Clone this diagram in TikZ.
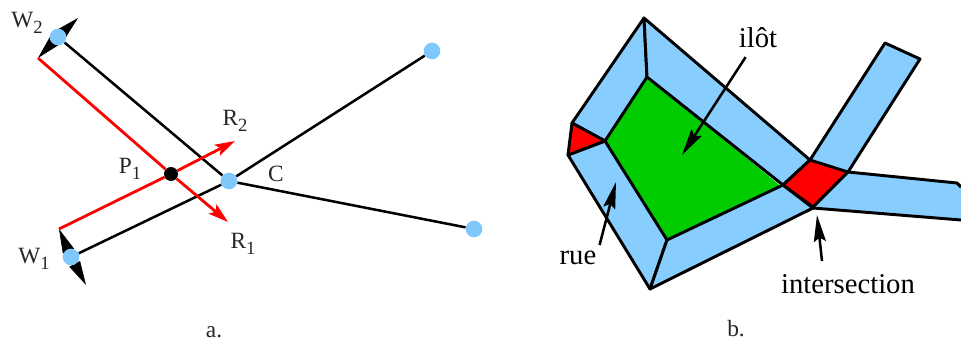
\documentclass[tikz,border=0pt]{standalone}
\usepackage{fontspec}
\setmainfont{Liberation Serif}
\usetikzlibrary{arrows.meta,calc,backgrounds}
\definecolor{roadblue}{HTML}{87CDFE}
\definecolor{ptblue}{HTML}{7FC8FC}
\definecolor{ilotgreen}{HTML}{00CC00}
\definecolor{softblack}{HTML}{262626}
\newcommand{\subt}[2]{#1\raisebox{-0.28em}{\fontsize{14}{14}\selectfont #2}}
\tikzset{
  ptnode/.style={circle,fill=ptblue,draw=none,minimum size=12.5,inner sep=0},
  pdot/.style={circle,fill=black,draw=none,minimum size=10.5,inner sep=0},
  segline/.style={black,line width=1.9pt},
  redline/.style={red,line width=2.1pt},
  redarrow/.style={redline,-{Stealth[length=15,width=9,inset=3]}},
  blackarrow/.style={black,line width=0.5pt,-{Stealth[length=18,width=9,inset=0]}},
  lab/.style={font=\fontsize{17.5}{17.5}\selectfont,text=softblack,inner sep=0},
  bigtext/.style={font=\fontsize{21.5}{21.5}\selectfont,text=black,inner sep=1.5},
  road/.style={fill=roadblue,draw=black,line width=2.2pt,line join=round},
  outline/.style={black,line width=2.2pt,line join=round},
  redcell/.style={fill=red,draw=black,line width=2.2pt,line join=round},
  pointer/.style={black,line width=1.9pt,-{Stealth[length=20,width=9,inset=3]}}
}
\begin{document}
\begin{tikzpicture}[x=0.75pt,y=-0.75pt]
\useasboundingbox (0,0) rectangle (961,343);
% --- panel a
\node[ptnode] (W2) at (58,37) {};
\node[ptnode] (W1) at (71,257) {};
\node[ptnode] (C) at (229,181) {};
\node[ptnode] (E1) at (432,51) {};
\node[ptnode] (E2) at (474,229) {};
\node[pdot] (P1) at (171,174) {};
\coordinate (w2a) at (38,58);
\coordinate (w2b) at (78,18);
\coordinate (w1a) at (59,229);
\coordinate (w1b) at (86,285);
\coordinate (r1) at (228,222);
\coordinate (r2) at (235,141);
\begin{pgfonlayer}{background}
\draw[segline] (W2) -- (C);
\draw[segline] (W1) -- (C);
\draw[segline] (C) -- (E1);
\draw[segline] (C) -- (E2);
\draw[blackarrow] (W2.center) -- (w2a);
\draw[blackarrow] (W2.center) -- (w2b);
\draw[blackarrow] (W1.center) -- (w1a);
\draw[blackarrow] (W1.center) -- (w1b);
\end{pgfonlayer}
\draw[redline] (w2a) -- (P1);
\draw[redline] (w1a) -- (P1);
\draw[redarrow] (P1) -- (r1);
\draw[redarrow] (P1) -- (r2);
\node[lab] (lW2) at (27,23) {\subt{W}{2}};
\node[lab] (lW1) at (34,259) {\subt{W}{1}};
\node[lab] (lR2) at (235,121) {\subt{R}{2}};
\node[lab] (lR1) at (243,244) {\subt{R}{1}};
\node[lab] (lP1) at (130,169) {\subt{P}{1}};
\node[lab] (lC) at (276,174) {C};
\node[lab] (la) at (214,332) {a.};
\node[lab] (lb) at (736,329) {b.};
% --- panel b
\fill[ilotgreen] (647,77) -- (605,141) -- (667,240) -- (782,187) -- cycle;
\draw[road] (644,18) -- (572,123) -- (605,141) -- (647,77) -- cycle;
\draw[road] (644,18) -- (810,160) -- (783,185) -- (647,77) -- cycle;
\draw[road] (568,155) -- (650,289) -- (667,240) -- (605,141) -- cycle;
\draw[road] (650,289) -- (813,208) -- (783,185) -- (667,240) -- cycle;
\fill[roadblue] (810,160) -- (885,43) -- (920,59) -- (848,172) -- cycle;
\draw[outline] (810,160) -- (885,43) -- (920,59) -- (848,172);
\fill[roadblue] (848,172) -- (957,183) -- (961,187) -- (961,220) -- (813,208) -- cycle;
\draw[outline] (848,172) -- (957,183) -- (961,187);
\draw[outline] (813,208) -- (961,220);
\draw[redcell] (572,123) -- (605,141) -- (568,155) -- cycle;
\draw[redcell] (810,160) -- (848,172) -- (813,207) -- (783,185) -- cycle;
\node[bigtext] (ilot) at (758,38) {ilôt};
\node[bigtext] (rue) at (578,258) {rue};
\node[bigtext] (isec) at (848,284) {intersection};
\coordinate (tI) at (682,155);
\coordinate (tR) at (616,182);
\coordinate (tS) at (817,215);
\coordinate (sS) at (822,261);
\draw[pointer,shorten <=6] (ilot) -- (tI);
\draw[pointer,shorten <=3] (rue.north east) -- (tR);
\draw[pointer] (sS) -- (tS);
\end{tikzpicture}
\end{document}
